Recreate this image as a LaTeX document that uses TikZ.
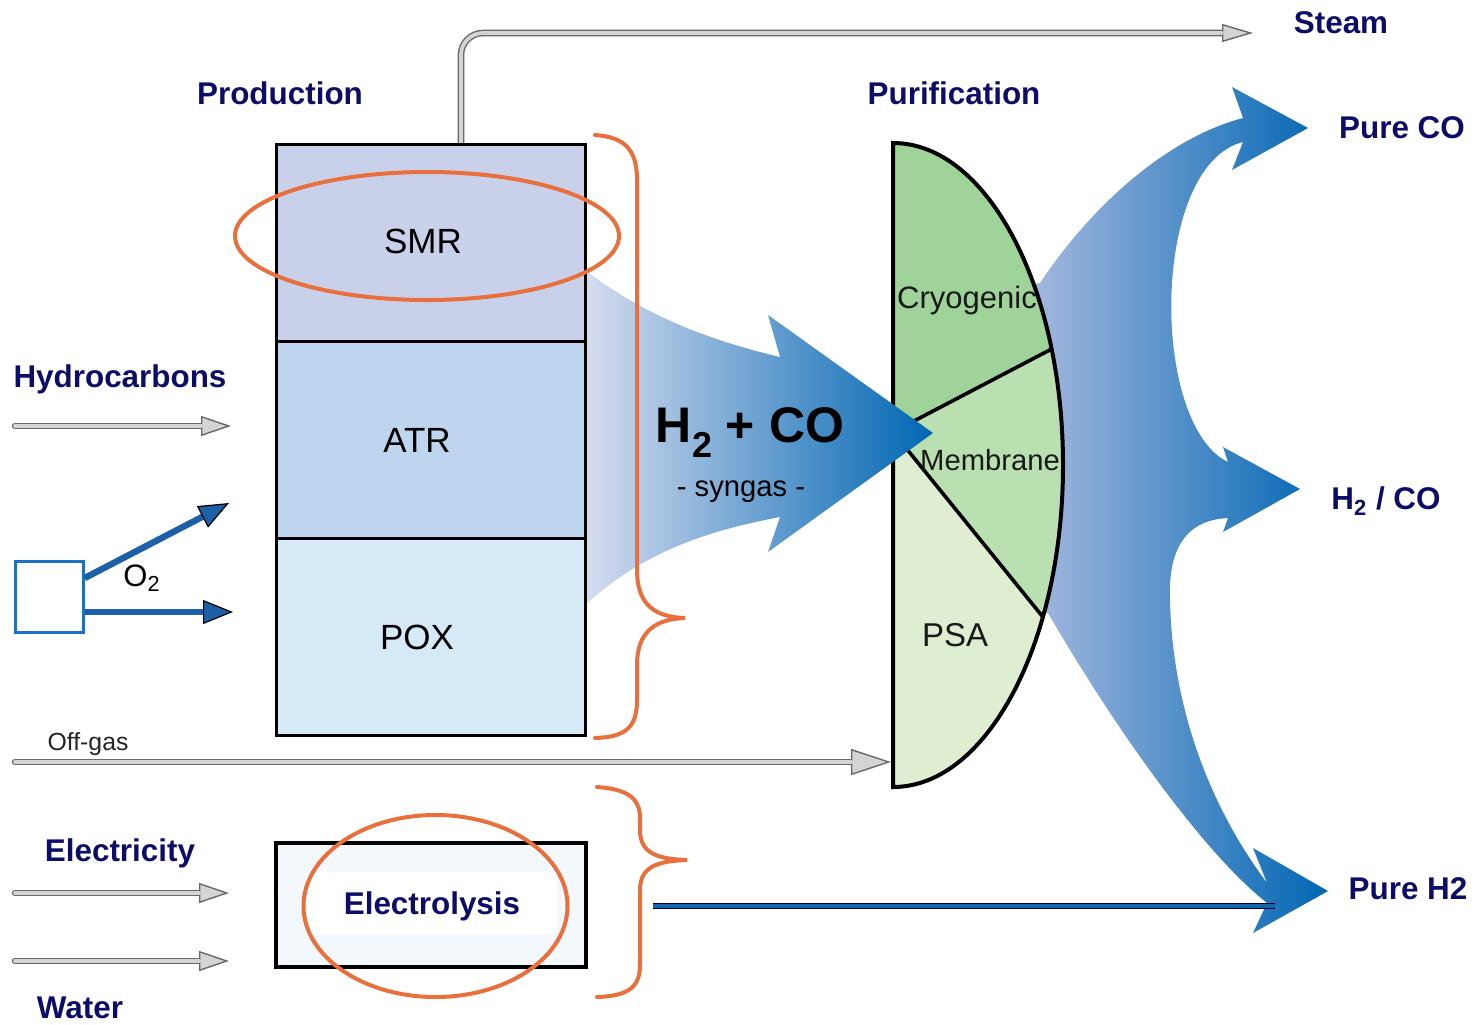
\documentclass[tikz,border=0pt]{standalone}
\usepackage{fontspec}
\setmainfont{Liberation Sans}
\usetikzlibrary{arrows.meta,calc}
\definecolor{navy}{RGB}{12,12,105}
\definecolor{orangeC}{RGB}{233,112,61}
\definecolor{smrC}{RGB}{201,209,234}
\definecolor{atrC}{RGB}{189,213,238}
\definecolor{poxC}{RGB}{214,233,247}
\definecolor{elecfill}{RGB}{243,248,253}
\definecolor{cryoC}{RGB}{160,211,154}
\definecolor{membC}{RGB}{186,223,176}
\definecolor{psaC}{RGB}{223,237,208}
\definecolor{blueD}{RGB}{0,102,179}
\definecolor{synL}{RGB}{214,220,239}
\definecolor{synM}{RGB}{126,152,207}
\definecolor{outL}{RGB}{182,193,227}
\definecolor{outM}{RGB}{112,145,202}
\definecolor{o2blue}{RGB}{28,96,168}
\definecolor{o2box}{RGB}{30,112,192}
\definecolor{pipeedge}{RGB}{105,105,105}
\definecolor{pipefill}{RGB}{212,212,212}
\definecolor{h2blue}{RGB}{20,100,170}
\begin{document}
\begin{tikzpicture}[x=0.5pt,y=-0.5pt,
  lbl/.style={font=\fontsize{15.7}{18}\selectfont\bfseries, text=navy, inner sep=0pt},
  procbox/.style={draw=black, line width=1.5pt, minimum width=154.5pt, minimum height=98.5pt, inner sep=0pt, font=\fontsize{17.5}{20}\selectfont},
  pipe/.style n args={2}{line cap=round, line width=3.3pt, draw=pipeedge, -{Triangle[length=#1,width=#2,fill=pipefill,color=pipeedge,line width=0.7pt]}},
  pipein/.style={line cap=round, line width=1.9pt, draw=pipefill, shorten >=#1},
  o2arrow/.style={line width=3.2pt, draw=o2blue, -{Triangle[length=15pt,width=12pt,fill=o2blue,color=black,line width=0.6pt]}},
  brace/.style={draw=orangeC, line width=2pt, line cap=round},
  sector/.style={draw=black, line width=1.8pt},
  seclbl/.style={font=\fontsize{15.5}{18}\selectfont, inner sep=0pt, text=black!90}
]
\useasboundingbox (0,0) rectangle (1476,1024);

% ---------- output flow shape ----------
\shade[left color=outL, middle color=outM, right color=blueD]
  (1000,290) -- (1040,283) .. controls (1085,215) and (1160,140) .. (1243,118)
  -- (1232,87) -- (1308,128) -- (1232,170) -- (1243,142)
  .. controls (1150,165) and (1150,425) .. (1228,462)
  -- (1223,447) -- (1300,489) -- (1223,532) -- (1228,518)
  .. controls (1185,520) and (1168,550) .. (1170,600)
  .. controls (1172,700) and (1205,800) .. (1267,883)
  -- (1253,848) -- (1328,891) -- (1253,933) -- (1267,903)
  .. controls (1200,850) and (1110,720) .. (1048,613)
  -- (1000,610) -- cycle;

% ---------- purification half-ellipse ----------
\fill[cryoC] (893,432) -- (893,143) arc[start angle=90,end angle=21.1,x radius=85pt,y radius=161pt] -- cycle;
\fill[membC] (893,432) -- (1051.6,349) arc[start angle=21.1,end angle=-28.2,x radius=85pt,y radius=161pt] -- cycle;
\fill[psaC] (893,432) -- (1042.9,617) arc[start angle=-28.2,end angle=-90,x radius=85pt,y radius=161pt] -- cycle;
\coordinate (pc) at (893,432);
\coordinate (pcryo) at (1051.6,349);
\coordinate (ppsa) at (1042.9,617);
\draw[sector] (pc) -- (pcryo);
\draw[sector] (pc) -- (ppsa);
\draw[black, line width=2pt] (893,143) arc[start angle=90,end angle=-90,x radius=85pt,y radius=161pt] -- cycle;
\node[seclbl] (cryo) at (967,300) {Cryogenic};
\node[seclbl, font=\fontsize{14.6}{17}\selectfont] (memb) at (990,460) {Membrane};
\node[seclbl, font=\fontsize{16.5}{19}\selectfont] (psa) at (955,635) {PSA};

% ---------- steam pipe ----------
\coordinate (steamS) at (461,144);
\coordinate (steamE) at (1253,33);
\draw[pipe={15.5pt}{9pt}, rounded corners=11pt] (steamS) |- (steamE);
\draw[pipein=15.5pt, rounded corners=11pt] (steamS) |- (steamE);

% ---------- syngas arrow ----------
\shade[left color=synL, middle color=synM, right color=blueD]
  (585,270) .. controls (640,312) and (700,338) .. (780,357)
  -- (768,315) -- (933,433) -- (768,552) -- (780,517)
  .. controls (700,532) and (640,555) .. (585,605) -- cycle;
\node[inner sep=0pt, font=\fontsize{25}{28}\selectfont\bfseries] (syn) at (750,433)
  {H\raisebox{-0.3em}{\fontsize{18}{18}\selectfont 2} + CO};
\node[inner sep=0pt, font=\fontsize{14.6}{17}\selectfont] (synsub) at (741,492) {- syngas -};

% ---------- production stack ----------
\node[procbox, fill=smrC] (smr) at (430.5,242.5) {};
\node[procbox, fill=atrC] (atr) at (430.5,439.5) {};
\node[procbox, fill=poxC] (pox) at (430.5,637) {};
\node[inner sep=0pt, font=\fontsize{17.5}{20}\selectfont] (smrl) at (423,241) {SMR};
\node[inner sep=0pt, font=\fontsize{17.5}{20}\selectfont] (atrl) at (417,440) {ATR};
\node[inner sep=0pt, font=\fontsize{17.5}{20}\selectfont] (poxl) at (417,637) {POX};
\draw[orangeC, line width=2pt] (427,236) ellipse [x radius=96pt, y radius=32pt];

% ---------- braces ----------
\draw[brace] (595,135) .. controls (625,137) and (637,150) .. (637,180) -- (637,570)
  .. controls (637,605) and (655,617) .. (685,618)
  .. controls (655,619) and (637,632) .. (637,665) -- (637,700)
  .. controls (637,728) and (625,737) .. (595,738);
\draw[brace] (597,787) .. controls (627,789) and (640,798) .. (640,818) -- (640,830)
  .. controls (640,852) and (655,859) .. (687,860)
  .. controls (655,861) and (640,868) .. (640,890) -- (640,965)
  .. controls (640,988) and (627,996) .. (597,997);

% ---------- electrolysis ----------
\node[draw=black, line width=2pt, fill=elecfill, minimum width=155pt, minimum height=62pt, inner sep=0pt] (elecbox) at (430.5,905) {};
\fill[white] (306,872) rectangle (557,934);
\node[lbl] (eleclbl) at (432,906) {Electrolysis};
\draw[orangeC, line width=2pt] (435.5,906) ellipse [x radius=66pt, y radius=45.5pt];

% ---------- H2 line ----------
\coordinate (h2s) at (653,906);
\coordinate (h2e) at (1275,906);
\draw[line width=0.6pt, draw=black!75!blue, double=h2blue, double distance=1.8pt] (h2s) -- (h2e);

% ---------- input pipes ----------
\coordinate (hcS) at (15,426);  \coordinate (hcE) at (231,426);
\draw[pipe={15pt}{10pt}] (hcS) -- (hcE);
\draw[pipein=15pt] (hcS) -- (hcE);
\coordinate (elS) at (15,893);  \coordinate (elE) at (229,893);
\draw[pipe={15pt}{10pt}] (elS) -- (elE);
\draw[pipein=15pt] (elS) -- (elE);
\coordinate (waS) at (15,961);  \coordinate (waE) at (229,961);
\draw[pipe={15pt}{10pt}] (waS) -- (waE);
\draw[pipein=15pt] (waS) -- (waE);
\coordinate (ogS) at (15,762);  \coordinate (ogE) at (891,762);
\draw[pipe={20pt}{13pt}] (ogS) -- (ogE);
\draw[pipein=20pt] (ogS) -- (ogE);

% ---------- O2 ----------
\node[draw=o2box, line width=1.2pt, fill=white, minimum width=34pt, minimum height=35.5pt, inner sep=0pt] (o2b) at (49.5,597) {};
\coordinate (o2a) at (229,503);
\coordinate (o2c) at (233,612);
\draw[o2arrow] ($(o2b.east)+(0,-19)$) -- (o2a);
\draw[o2arrow] ($(o2b.east)+(0,15)$) -- (o2c);
\node[inner sep=0pt, font=\fontsize{15.5}{18}\selectfont] (o2l) at (142,578) {O\textsubscript{2}};

% ---------- labels ----------
\node[lbl] (prod) at (280,93) {Production};
\node[lbl] (puri) at (954,93) {Purification};
\node[lbl] (steam) at (1341,23) {Steam};
\node[lbl] (pco) at (1402,128) {Pure CO};
\node[lbl] (h2co) at (1386,501) {H\textsubscript{2} / CO};
\node[lbl] (ph2) at (1408,889) {Pure H2};
\node[lbl] (hyd) at (120,379) {Hydrocarbons};
\node[lbl] (elec) at (120,853) {Electricity};
\node[lbl] (water) at (80,1008) {Water};
\node[inner sep=0pt, font=\fontsize{12.4}{15}\selectfont, text=black!85] (offg) at (88,744) {Off-gas};
\end{tikzpicture}
\end{document}
